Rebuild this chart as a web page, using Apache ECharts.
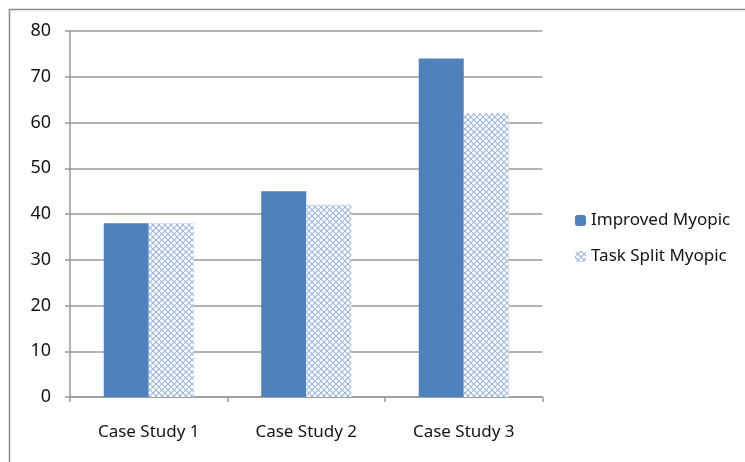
<!DOCTYPE html>
<html>
<head>
<meta charset="utf-8">
<script src="https://cdn.jsdelivr.net/npm/echarts@6/dist/echarts.min.js"></script>
<style>
html,body{margin:0;padding:0;background:#fff;}
#chart{width:745px;height:462px;}
</style>
</head>
<body>
<div id="chart"></div>
<script>
// Chart data
const categories = ['Case Study 1', 'Case Study 2', 'Case Study 3'];
const improvedMyopic = [38, 45, 74];
const taskSplitMyopic = [38, 42, 62];
const seriesNames = ['Improved Myopic', 'Task Split Myopic'];

// Small diagonal cross-hatch tile for the second series
function hatchTile() {
  const c = document.createElement('canvas');
  c.width = 6; c.height = 6;
  const g = c.getContext('2d');
  g.fillStyle = '#ffffff';
  g.fillRect(0, 0, 6, 6);
  g.strokeStyle = '#9db8de';
  g.lineWidth = 1.2;
  g.beginPath();
  g.moveTo(0, 0); g.lineTo(6, 6);
  g.moveTo(6, 0); g.lineTo(0, 6);
  g.stroke();
  return c;
}

const font = 'Noto Sans, Open Sans, sans-serif';
const textColor = '#141414';
const lineColor = '#9a9a9a';
const chart = echarts.init(document.getElementById('chart'), null, { renderer: 'canvas' });
chart.setOption({
  animation: false,
  backgroundColor: '#ffffff',
  graphic: [{
    // frame: only top and left edges fall inside the canvas
    type: 'rect',
    shape: { x: 9.5, y: 9.5, width: 800, height: 500 },
    style: { fill: 'none', stroke: '#8c8c8c', lineWidth: 1.5 },
    silent: true
  }],
  grid: { left: 70, top: 31, width: 472.5, height: 366 },
  legend: {
    orient: 'vertical',
    left: 570,
    top: 207,
    itemWidth: 11,
    itemHeight: 11,
    itemGap: 19,
    textStyle: { fontFamily: font, fontSize: 17, color: textColor },
    data: seriesNames
  },
  xAxis: {
    type: 'category',
    data: categories,
    axisLine: { lineStyle: { color: lineColor, width: 1.5 } },
    axisTick: { show: true, length: 5, lineStyle: { color: lineColor, width: 1.5 } },
    axisLabel: { fontFamily: font, fontSize: 17, color: textColor, margin: 27 }
  },
  yAxis: {
    type: 'value',
    min: 0, max: 80, interval: 10,
    axisLine: { show: true, lineStyle: { color: lineColor, width: 1.5 } },
    axisTick: { show: true, length: 5, lineStyle: { color: lineColor, width: 1.5 } },
    axisLabel: { fontFamily: font, fontSize: 18, color: textColor, margin: 19 },
    splitLine: { lineStyle: { color: lineColor, width: 1.5 } }
  },
  series: [
    {
      name: seriesNames[0],
      type: 'bar',
      data: improvedMyopic,
      barWidth: 45,
      barGap: '0%',
      itemStyle: { color: '#4f81bd' }
    },
    {
      name: seriesNames[1],
      type: 'bar',
      data: taskSplitMyopic,
      barWidth: 45,
      barGap: '0%',
      itemStyle: { color: { image: hatchTile(), repeat: 'repeat' } }
    }
  ]
});
</script>
</body>
</html>
